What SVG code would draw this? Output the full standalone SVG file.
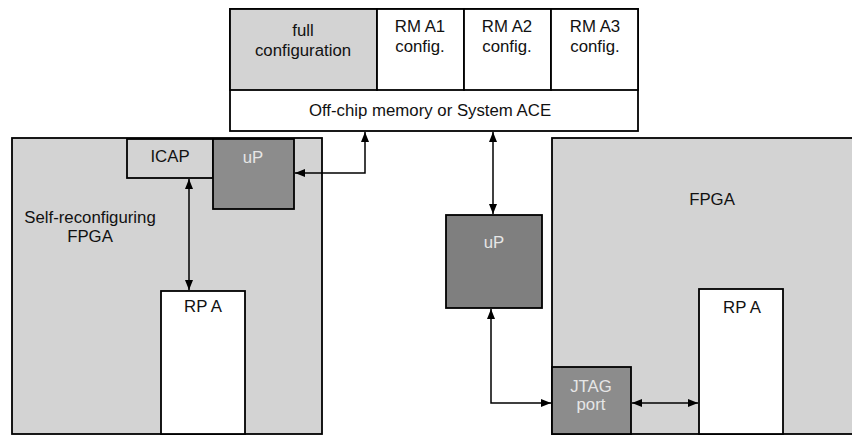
<svg xmlns="http://www.w3.org/2000/svg" width="852" height="435" viewBox="0 0 852 435">
<defs>
<marker id="ah" viewBox="0 0 10 8" refX="10" refY="4" markerWidth="10" markerHeight="8" markerUnits="userSpaceOnUse" orient="auto-start-reverse">
<path d="M0,0 L10,4 L0,8 Z" fill="#000"/>
</marker>
<style>
.box{stroke:#000;stroke-width:1.8}
.lt{fill:#d3d3d3}
.wh{fill:#fff}
.dk{fill:#7f7f7f}
.md{fill:#8c8c8c}
text{font-family:"Liberation Sans",Arial,sans-serif;font-size:16.8px;text-anchor:middle;fill:#111}
.lite{fill:#e6e6e6}
.con{fill:none;stroke:#000;stroke-width:1.5}
</style>
</defs>
<rect width="852" height="435" fill="#fff"/>
<g id="fpga-left">
<rect class="box lt" x="12" y="138" width="310" height="296"/>
<text x="90" y="223">Self-reconfiguring</text>
<text x="90" y="242">FPGA</text>
</g>
<g id="icap">
<rect class="box lt" x="127" y="139" width="86" height="39"/>
<text x="170" y="162">ICAP</text>
</g>
<g id="up-left">
<rect class="box md" x="213" y="139" width="81" height="70"/>
<text class="lite" x="253" y="163">uP</text>
</g>
<g id="rpa-left">
<rect class="box wh" x="161" y="291" width="84" height="143"/>
<text x="203" y="312">RP A</text>
</g>
<g id="fpga-right">
<rect class="box lt" x="552" y="138" width="310" height="296"/>
<text x="712" y="205">FPGA</text>
</g>
<g id="rpa-right">
<rect class="box wh" x="699" y="289" width="84" height="145"/>
<text x="742" y="313">RP A</text>
</g>
<g id="jtag">
<rect class="box md" x="552" y="367" width="79" height="67"/>
<text class="lite" x="591" y="392">JTAG</text>
<text class="lite" x="591" y="410">port</text>
</g>
<g id="up-right">
<rect class="box dk" x="446" y="215" width="96" height="93"/>
<text class="lite" x="494" y="248">uP</text>
</g>
<g id="memory">
<rect class="box wh" x="230" y="9" width="408" height="122"/>
<rect class="box lt" x="230" y="9" width="147" height="81"/>
<rect class="box wh" x="377" y="9" width="87" height="81"/>
<rect class="box wh" x="464" y="9" width="87" height="81"/>
<rect class="box wh" x="551" y="9" width="87" height="81"/>
<text x="303" y="36">full</text>
<text x="303" y="56">configuration</text>
<text x="420" y="32">RM A1</text>
<text x="420" y="52">config.</text>
<text x="507" y="32">RM A2</text>
<text x="507" y="52">config.</text>
<text x="595" y="32">RM A3</text>
<text x="595" y="52">config.</text>
<text x="430" y="116">Off-chip memory or System ACE</text>
</g>
<g id="connectors">
<path class="con" d="M189,179 L189,290" marker-start="url(#ah)" marker-end="url(#ah)"/>
<path class="con" d="M295,173 L365,173 L365,132" marker-start="url(#ah)" marker-end="url(#ah)"/>
<path class="con" d="M493,132 L493,214" marker-start="url(#ah)" marker-end="url(#ah)"/>
<path class="con" d="M491,309 L491,403 L551,403" marker-start="url(#ah)" marker-end="url(#ah)"/>
<path class="con" d="M632,403 L698,403" marker-start="url(#ah)" marker-end="url(#ah)"/>
</g>
</svg>
